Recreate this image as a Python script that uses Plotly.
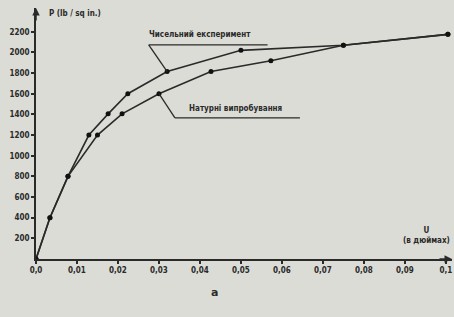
import plotly.graph_objects as go

# Data
x_num = [0.0, 0.0034, 0.0078, 0.0129, 0.0176, 0.0224, 0.032, 0.05, 0.075, 0.1005]
p_num = [0, 400, 800, 1200, 1405, 1600, 1815, 2020, 2070, 2175]

x_nat = [0.0, 0.0034, 0.0078, 0.015, 0.021, 0.030, 0.0427, 0.0573, 0.075, 0.1005]
p_nat = [0, 400, 800, 1200, 1405, 1600, 1815, 1920, 2070, 2175]

x_tickvals = [0.0, 0.01, 0.02, 0.03, 0.04, 0.05, 0.06, 0.07, 0.08, 0.09, 0.1]
x_ticktext = ["0,0", "0,01", "0,02", "0,03", "0,04", "0,05", "0,06", "0,07", "0,08", "0,09", "0,1"]
y_tickvals = [200, 400, 600, 800, 1000, 1200, 1400, 1600, 1800, 2000, 2200]
y_ticktext = ["200", "400", "600", "800", "1000", "1200", "1400", "1600", "1800", "2000", "2200"]

label_num = "Чисельний експеримент"
label_nat = "Натурні випробування"

BG = "#dcdcd6"
INK = "#2a2a2a"
FONT = dict(family="DejaVu Sans Condensed", size=8, color=INK, weight="bold")

fig = go.Figure()
fig.add_trace(go.Scatter(x=x_num, y=p_num, mode="lines+markers", name=label_num,
                         line=dict(color=INK, width=1.6),
                         marker=dict(color="#111", size=5)))
fig.add_trace(go.Scatter(x=x_nat, y=p_nat, mode="lines+markers", name=label_nat,
                         line=dict(color=INK, width=1.6),
                         marker=dict(color="#111", size=5)))

fig.update_layout(
    width=454, height=317,
    margin=dict(l=36, r=2, t=8, b=58, autoexpand=False),
    paper_bgcolor=BG, plot_bgcolor=BG,
    showlegend=False,
    font=FONT,
    xaxis=dict(range=[0, 0.1015], tickvals=x_tickvals, ticktext=x_ticktext,
               showgrid=False, zeroline=False, showline=True, linecolor=INK, linewidth=1.6,
               ticks="outside", ticklen=3, tickcolor=INK, tickwidth=1.5,
               tickfont=FONT, anchor="y", automargin=False),
    yaxis=dict(range=[0, 2430], tickvals=y_tickvals, ticktext=y_ticktext,
               showgrid=False, zeroline=False, showline=True, linecolor=INK, linewidth=1.6,
               ticks="outside", ticklen=3, tickcolor=INK, tickwidth=1.5,
               tickfont=FONT, anchor="x", automargin=False),
)

ann = []
# axis arrows
ann.append(dict(x=0, y=2430, xref="x", yref="y", ax=0, ay=14,
                showarrow=True, arrowhead=2, arrowsize=1, arrowwidth=1.5, arrowcolor=INK, text=""))
ann.append(dict(x=0.1015, y=0, xref="x", yref="y", ax=-14, ay=0,
                showarrow=True, arrowhead=2, arrowsize=1, arrowwidth=1.5, arrowcolor=INK, text=""))
# axis titles
ann.append(dict(x=0.0026, y=2380, xref="x", yref="y", text="P (lb / sq in.)", showarrow=False,
                xanchor="left", yanchor="middle", font=FONT))
ann.append(dict(x=1.0, y=120, xref="paper", yref="y", text="U<br>(в дюймах)", showarrow=False,
                xanchor="right", yanchor="bottom", font=FONT, align="center"))
# curve labels
ann.append(dict(x=0.0272, y=2170, xref="x", yref="y", text=label_num, showarrow=False,
                xanchor="left", yanchor="middle", font=FONT))
ann.append(dict(x=0.0368, y=1463, xref="x", yref="y", text=label_nat, showarrow=False,
                xanchor="left", yanchor="middle", font=FONT))
ann.append(dict(x=0.428, y=-0.135, xref="paper", yref="paper", text="а", showarrow=False,
                yanchor="middle", font=dict(family="DejaVu Sans", size=11, color=INK)))
fig.update_layout(annotations=ann)

# leader lines and underlines
fig.add_shape(type="line", x0=0.032, y0=1815, x1=0.0275, y1=2073, xref="x", yref="y",
              line=dict(color=INK, width=1.3))
fig.add_shape(type="line", x0=0.0275, y0=2073, x1=0.0565, y1=2073, xref="x", yref="y",
              line=dict(color=INK, width=1.3))
fig.add_shape(type="line", x0=0.030, y0=1600, x1=0.0339, y1=1366, xref="x", yref="y",
              line=dict(color=INK, width=1.3))
fig.add_shape(type="line", x0=0.0339, y0=1366, x1=0.0644, y1=1366, xref="x", yref="y",
              line=dict(color=INK, width=1.3))

fig.write_html("out.html", config={"displayModeBar": False},
               post_script="document.body.style.margin='0';document.body.style.overflow='hidden';")
